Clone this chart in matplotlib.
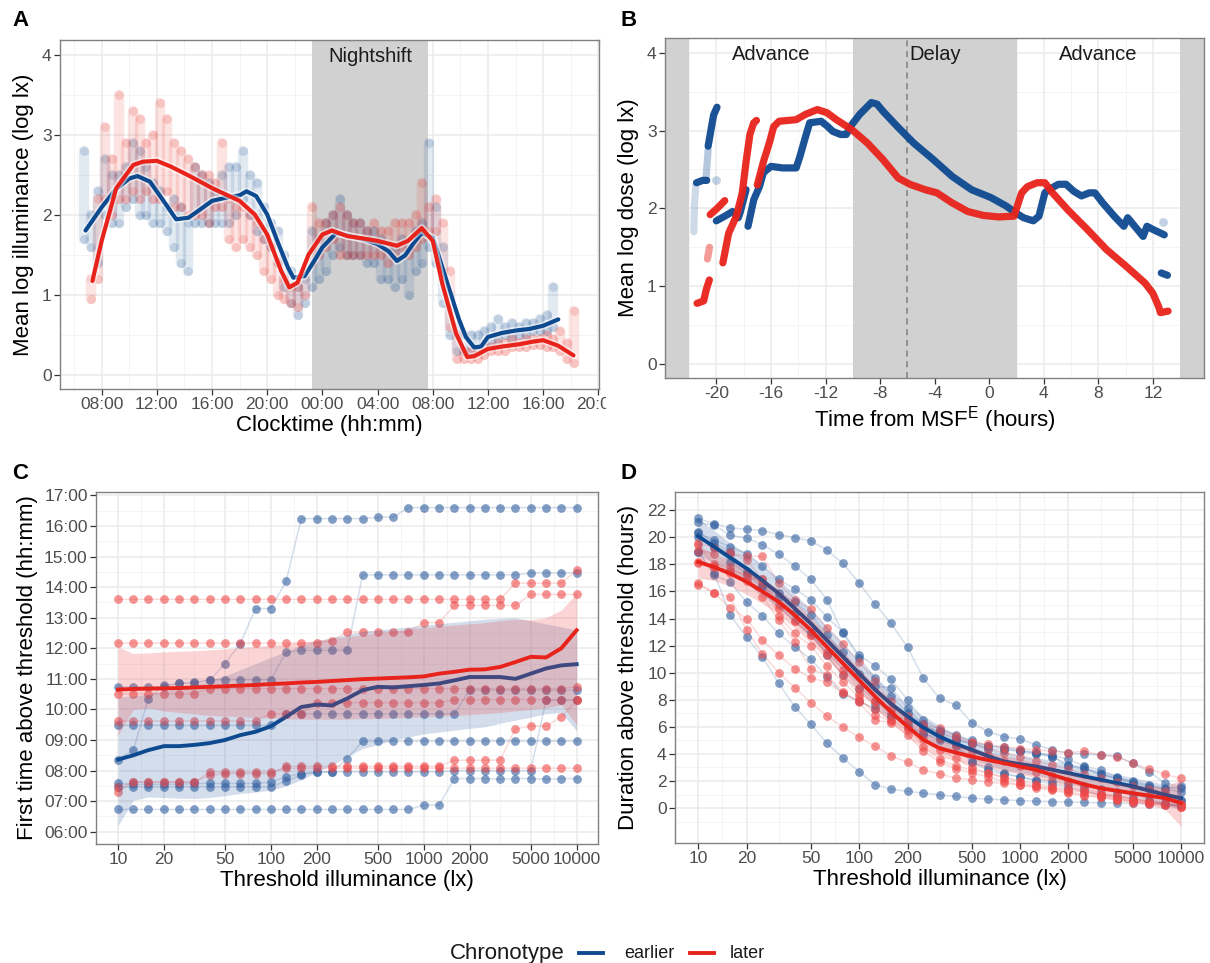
import numpy as np
import matplotlib
matplotlib.use('Agg')
import matplotlib.pyplot as plt
import matplotlib.patheffects as pe
from matplotlib.ticker import FixedLocator, NullFormatter
from matplotlib.lines import Line2D
from matplotlib.transforms import Bbox, TransformedBbox

plt.rcParams['font.family'] = ['Liberation Sans', 'DejaVu Sans']
plt.rcParams['mathtext.fontset'] = 'custom'
plt.rcParams['mathtext.rm'] = 'Liberation Sans'
plt.rcParams['mathtext.it'] = 'Liberation Sans:italic'
plt.rcParams['axes.unicode_minus'] = False

# ---------------- DATA ----------------
# Panel A: clock time in hours from day-1 midnight
a_tick_pos = [8, 12, 16, 20, 24, 28, 32, 36, 40, 44]
a_tick_lab = ['08:00', '12:00', '16:00', '20:00', '00:00', '04:00', '08:00', '12:00', '16:00', '20:00']

a_blue_t = [6.75, 7.25, 7.75, 8.25, 8.75, 9.25, 9.75, 10.25, 10.75, 11.25, 11.75, 12.25, 12.75, 13.25,
            13.75, 14.25, 14.75, 15.25, 15.75, 16.25, 16.75, 17.25, 17.75, 18.25, 18.75, 19.25, 19.75,
            20.25, 20.75, 21.25, 21.75, 22.25, 22.75, 23.25, 23.75, 24.25, 24.75, 25.25, 25.75, 26.25,
            26.75, 27.25, 27.75, 28.25, 28.75, 29.25, 29.75, 30.25, 30.75, 31.25, 31.75, 32.25, 32.75,
            33.25, 33.75, 34.25, 34.75, 35.25, 35.75, 36.25, 36.75, 37.25, 37.75, 38.25, 38.75, 39.25,
            39.75, 40.25, 40.75]
a_blue_lo = [1.7, 1.6, 1.4, 2.0, 1.9, 1.9, 2.1, 2.2, 2.0, 2.0, 1.9, 1.9, 1.8, 1.6, 1.4, 1.3, 1.9, 1.9,
             1.9, 1.9, 1.9, 1.9, 2.0, 2.2, 2.0, 1.8, 1.7, 1.6, 1.4, 1.1, 0.9, 0.75, 0.9, 1.1, 1.2, 1.3,
             1.5, 1.6, 1.5, 1.5, 1.5, 1.4, 1.4, 1.2, 1.2, 1.1, 1.2, 1.0, 1.3, 1.4, 1.6, 1.4, 0.9, 0.5,
             0.3, 0.3, 0.3, 0.35, 0.35, 0.4, 0.45, 0.5, 0.45, 0.5, 0.5, 0.55, 0.55, 0.55, 0.6]
a_blue_hi = [2.8, 2.0, 2.3, 2.7, 2.5, 2.5, 2.6, 2.9, 2.8, 2.6, 2.4, 2.3, 2.1, 2.2, 2.1, 1.9, 2.6, 2.5,
             2.4, 2.3, 2.5, 2.6, 2.6, 2.8, 2.5, 2.4, 2.1, 1.9, 1.8, 1.5, 1.3, 1.1, 1.2, 1.8, 1.7, 1.9,
             2.0, 2.2, 2.0, 1.9, 1.9, 1.8, 1.8, 1.7, 1.6, 1.6, 1.7, 1.6, 1.8, 1.9, 2.9, 2.1, 1.6, 1.0,
             0.6, 0.5, 0.5, 0.5, 0.55, 0.6, 0.7, 0.6, 0.65, 0.6, 0.65, 0.65, 0.7, 0.75, 1.1]

a_red_t = [7.25, 7.75, 8.25, 8.75, 9.25, 9.75, 10.25, 10.75, 11.25, 11.75, 12.25, 12.75, 13.25, 13.75,
           14.25, 14.75, 15.25, 15.75, 16.25, 16.75, 17.25, 17.75, 18.25, 18.75, 19.25, 19.75, 20.25,
           20.75, 21.25, 21.75, 22.25, 22.75, 23.25, 23.75, 24.25, 24.75, 25.25, 25.75, 26.25, 26.75,
           27.25, 27.75, 28.25, 28.75, 29.25, 29.75, 30.25, 30.75, 31.25, 31.75, 32.25, 32.75, 33.25,
           33.75, 34.25, 34.75, 35.25, 35.75, 36.25, 36.75, 37.25, 37.75, 38.25, 38.75, 39.25, 39.75,
           40.25, 40.75, 41.25, 41.75, 42.25]
a_red_lo = [0.95, 1.2, 2.2, 2.0, 2.2, 2.2, 2.3, 2.2, 2.3, 2.2, 2.2, 2.3, 2.1, 2.1, 2.0, 2.0, 2.0, 1.9,
            2.1, 2.1, 1.7, 1.6, 1.7, 1.6, 1.5, 1.3, 1.2, 1.0, 0.95, 0.9, 0.85, 1.0, 1.4, 1.5, 1.6, 1.7,
            1.5, 1.5, 1.5, 1.5, 1.5, 1.5, 1.5, 1.4, 1.5, 1.6, 1.5, 1.6, 1.7, 1.8, 1.8, 1.3, 0.6, 0.2,
            0.2, 0.2, 0.2, 0.25, 0.3, 0.3, 0.3, 0.35, 0.35, 0.35, 0.38, 0.38, 0.35, 0.35, 0.3, 0.2, 0.15]
a_red_hi = [1.2, 2.2, 3.1, 2.7, 3.5, 2.9, 3.3, 3.2, 2.9, 3.0, 3.4, 3.2, 2.9, 2.8, 2.7, 2.6, 2.5, 2.5,
            2.4, 2.9, 2.2, 2.1, 2.1, 2.0, 1.9, 1.7, 1.6, 1.4, 1.2, 1.1, 1.1, 1.3, 2.1, 1.9, 1.9, 2.0,
            2.1, 2.0, 1.9, 1.9, 1.8, 1.9, 1.8, 1.8, 1.9, 1.9, 1.9, 2.0, 2.4, 2.1, 2.2, 1.9, 1.3, 0.5,
            0.3, 0.3, 0.3, 0.35, 0.35, 0.4, 0.4, 0.45, 0.4, 0.45, 0.45, 0.45, 0.5, 0.45, 0.55, 0.4, 0.8]

a_blue_smooth_t = [6.83, 8.0, 9.0, 10.0, 10.6, 11.5, 12.4, 13.4, 14.3, 15.2, 16.0, 17.0, 18.0, 18.5,
                   19.2, 20.0, 20.8, 21.5, 21.9, 22.7, 23.3, 24.0, 25.0, 26.0, 27.0, 28.0, 28.8, 29.4,
                   30.0, 30.6, 31.2, 32.0, 32.6, 33.3, 33.9, 34.4, 35.0, 35.5, 36.0, 37.0, 38.0, 39.0,
                   40.0, 41.1]
a_blue_smooth_v = [1.81, 2.1, 2.32, 2.46, 2.49, 2.42, 2.2, 1.95, 1.97, 2.08, 2.18, 2.22, 2.25, 2.3,
                   2.24, 2.01, 1.65, 1.35, 1.22, 1.24, 1.4, 1.6, 1.78, 1.74, 1.7, 1.64, 1.55, 1.43,
                   1.5, 1.65, 1.78, 1.72, 1.4, 1.02, 0.7, 0.48, 0.35, 0.36, 0.48, 0.53, 0.56, 0.58,
                   0.62, 0.70]
a_red_smooth_t = [7.33, 8.0, 9.06, 10.3, 11.0, 12.0, 13.0, 14.5, 16.0, 17.0, 18.0, 19.1, 20.0, 21.0,
                  21.6, 22.2, 23.0, 24.0, 24.7, 25.8, 27.0, 28.0, 29.4, 30.2, 31.2, 32.0, 32.7, 33.7,
                  34.5, 35.0, 36.0, 37.0, 38.3, 39.2, 40.0, 41.1, 42.2]
a_red_smooth_v = [1.18, 1.68, 2.34, 2.63, 2.67, 2.68, 2.61, 2.48, 2.34, 2.26, 2.18, 2.01, 1.76, 1.31,
                  1.10, 1.16, 1.51, 1.76, 1.81, 1.74, 1.71, 1.68, 1.62, 1.68, 1.84, 1.68, 1.14, 0.52,
                  0.23, 0.24, 0.33, 0.36, 0.39, 0.42, 0.44, 0.37, 0.25]
a_night = [23.26, 31.68]

# Panel B: time from MSF^E (hours), mean log dose
b_blue_faint1_t = [-21.65, -21.6, -21.5]
b_blue_faint1_v = [1.70, 2.05, 2.30]
b_blue_faint2_t = [-20.75, -20.6]
b_blue_faint2_v = [2.40, 2.75]
b_blue_faint_pts_t = [-20.0, 12.7]
b_blue_faint_pts_v = [2.37, 1.83]
b_blue_seg1_t = [-21.45, -21.0, -20.7]
b_blue_seg1_v = [2.33, 2.36, 2.36]
b_blue_seg2_t = [-20.6, -20.4, -20.2, -19.95]
b_blue_seg2_v = [2.8, 3.0, 3.2, 3.3]
b_blue_seg3_t = [-20.0, -19.38, -18.81, -18.39, -18.25, -17.82]
b_blue_seg3_v = [1.84, 1.9, 1.96, 1.88, 1.95, 2.24]
b_blue_seg4_t = [-17.68, -17.26, -16.84, -16.55, -15.99, -15.14, -14.15, -13.87, -13.45, -13.16,
                 -12.32, -11.89, -11.47, -10.9, -10.48, -10.06, -9.49, -8.64, -8.22, -7.8, -6.67,
                 -5.54, -4.12, -2.71, -1.3, 0.11, 1.24, 1.95, 2.51, 3.22, 3.64, 4.07, 4.35, 5.06,
                 5.62, 6.19, 6.75, 7.32, 7.74, 8.31, 9.15, 9.86, 10.14, 10.56, 11.27, 11.55, 11.98, 12.82]
b_blue_seg4_v = [1.77, 2.11, 2.28, 2.46, 2.54, 2.52, 2.52, 2.67, 2.93, 3.1, 3.12, 3.06, 2.99, 2.95,
                 2.95, 3.08, 3.21, 3.36, 3.34, 3.25, 3.04, 2.84, 2.63, 2.41, 2.24, 2.14, 2.03, 1.94,
                 1.88, 1.84, 1.9, 2.2, 2.24, 2.31, 2.31, 2.22, 2.16, 2.2, 2.2, 2.07, 1.9, 1.77, 1.88,
                 1.79, 1.64, 1.77, 1.73, 1.66]
b_blue_seg5_t = [12.6, 13.05]
b_blue_seg5_v = [1.17, 1.14]

b_red_seg1_t = [-21.41, -20.93, -20.73, -20.51]
b_red_seg1_v = [0.78, 0.81, 0.96, 1.08]
b_red_seg2_t = [-20.65, -20.5]
b_red_seg2_v = [1.35, 1.5]
b_red_seg3_t = [-20.45, -19.94, -19.38]
b_red_seg3_v = [1.92, 2.0, 2.1]
b_red_seg4_t = [-19.52, -19.1, -18.53, -18.1, -17.82, -17.54, -17.26, -17.06]
b_red_seg4_v = [1.3, 1.68, 1.9, 2.2, 2.6, 2.95, 3.1, 3.13]
b_red_seg5_t = [-17.0, -16.55, -16.1, -15.8, -15.4, -14.15, -13.45, -12.6, -11.9, -11.2, -10.06,
                -8.93, -7.8, -6.67, -5.82, -4.69, -3.84, -2.71, -1.58, -0.45, 0.68, 1.81, 2.37, 2.8,
                3.5, 4.07, 4.63, 5.76, 7.18, 8.59, 10.0, 11.41, 11.98, 12.4, 12.54, 13.1]
b_red_seg5_v = [2.3, 2.6, 2.85, 3.05, 3.12, 3.14, 3.21, 3.27, 3.23, 3.14, 3.01, 2.84, 2.63, 2.39,
                2.31, 2.24, 2.2, 2.07, 1.96, 1.91, 1.89, 1.9, 2.2, 2.28, 2.33, 2.33, 2.2, 1.98, 1.73,
                1.47, 1.26, 1.04, 0.91, 0.74, 0.66, 0.68]
b_gray_spans = [(-23.76, -22.0), (-10.0, 2.0), (14.0, 15.73)]
b_phase_labels = ['Advance', 'Delay', 'Advance']
b_phase_pos = [-16, -4, 8]
b_msf_line = -6

# Panels C and D: thresholds (lx)
thresholds = [10, 12.6, 15.8, 20, 25.1, 31.6, 39.8, 50.1, 63.1, 79.4, 100, 126, 158, 200, 251, 316,
              398, 501, 631, 794, 1000, 1259, 1585, 1995, 2512, 3162, 3981, 5012, 6310, 7943, 10000]
log_ticks = [10, 20, 50, 100, 200, 500, 1000, 2000, 5000, 10000]
log_tick_labels = ['10', '20', '50', '100', '200', '500', '1000', '2000', '5000', '10000']

# C: first time above threshold (hours of day)
c_blue = [
    [6.73, 6.73, 6.73, 6.73, 6.73, 6.73, 6.73, 6.73, 6.73, 6.73, 6.73, 6.73, 6.73, 6.73, 6.73, 6.73,
     6.73, 6.73, 6.73, 6.73, 6.87, 6.87, 7.74, 7.74, 7.74, 7.72, 7.74, 7.74, 7.72, 7.74, 7.74],
    [7.47, 7.47, 7.47, 7.47, 7.47, 7.47, 7.47, 7.47, 7.47, 7.47, 7.47, 7.66, 7.85, 7.96, 7.96, 7.96,
     7.96, 7.96, 7.96, 7.96, 7.96, 7.96, 8.0, 8.0, 8.0, 8.0, 8.0, 8.0, 10.3, 10.3, 10.3],
    [7.58, 7.55, 7.55, 7.55, 7.55, 7.58, 7.58, 7.58, 7.58, 7.58, 7.62, 7.8, 7.9, 7.95, 7.95, 8.39,
     8.96, 8.96, 8.96, 8.96, 8.96, 8.96, 8.96, 8.96, 8.96, 8.96, 8.96, 8.96, 8.96, 8.96, 8.96],
    [8.36, 8.67, 10.35, 10.8, 10.85, 10.9, 10.95, 11.5, 12.15, 13.3, 13.3, 14.2, 16.24, 16.24, 16.24,
     16.24, 16.24, 16.29, 16.29, 16.6, 16.6, 16.6, 16.6, 16.6, 16.6, 16.6, 16.6, 16.6, 16.6, 16.6, 16.6],
    [9.48, 9.48, 9.48, 9.48, 9.48, 9.48, 9.48, 9.48, 9.48, 9.48, 9.48, 9.86, 9.86, 9.86, 9.86, 9.86,
     9.86, 9.86, 9.86, 9.86, 9.86, 9.86, 9.86, 10.63, 10.63, 10.63, 10.63, 10.63, 10.63, 10.63, 10.63],
    [10.74, 10.74, 10.74, 10.74, 10.85, 10.85, 10.97, 10.97, 10.97, 10.97, 10.97, 11.88, 11.93, 11.93,
     11.93, 11.93, 14.4, 14.4, 14.4, 14.4, 14.4, 14.4, 14.4, 14.4, 14.4, 14.4, 14.4, 14.46, 14.46,
     14.46, 14.46],
]
c_red = [
    [13.6, 13.6, 13.6, 13.6, 13.6, 13.6, 13.6, 13.6, 13.6, 13.6, 13.6, 13.6, 13.6, 13.6, 13.6, 13.6,
     13.6, 13.6, 13.6, 13.6, 13.6, 13.6, 13.6, 13.6, 13.6, 13.6, 14.13, 14.13, 14.13, 14.13, 14.55],
    [12.17, 12.17, 12.17, 12.17, 12.17, 12.17, 12.17, 12.17, 12.17, 12.17, 12.17, 12.17, 12.17, 12.17,
     12.25, 12.53, 12.53, 12.53, 12.53, 12.53, 12.84, 12.84, 13.4, 13.4, 13.4, 13.4, 13.4, 13.76,
     13.76, 13.76, 13.76],
    [10.52, 10.52, 10.52, 10.52, 10.52, 10.52, 10.68, 10.68, 10.68, 10.68, 10.68, 10.68, 10.68, 10.68,
     10.68, 10.68, 10.68, 10.68, 10.68, 10.68, 10.68, 10.68, 10.68, 10.68, 10.68, 10.68, 10.68, 10.68,
     10.68, 10.68, 10.75],
    [9.62, 9.62, 9.62, 9.62, 9.62, 9.62, 9.62, 9.62, 9.62, 9.62, 9.86, 9.86, 9.86, 10.22, 10.22, 10.22,
     10.22, 10.22, 10.22, 10.22, 10.22, 10.22, 10.32, 10.32, 10.32, 10.32, 10.32, 10.32, 10.32, 10.32,
     10.32],
    [7.45, 7.63, 7.63, 7.63, 7.63, 7.63, 7.85, 7.9, 7.9, 7.9, 7.9, 8.14, 8.14, 8.14, 8.14, 8.14, 8.14,
     8.14, 8.14, 8.14, 8.14, 8.14, 8.34, 8.34, 8.34, 8.34, 9.37, 9.45, 9.45, 9.76, 10.3],
    [7.3, 7.62, 7.62, 7.62, 7.62, 7.62, 7.95, 7.95, 7.95, 7.95, 7.95, 8.08, 8.08, 8.08, 8.08, 8.08,
     8.08, 8.08, 8.08, 8.08, 8.08, 8.08, 8.08, 8.08, 8.08, 8.08, 8.08, 8.08, 8.08, 8.08, 8.08],
]
c_blue_smooth = [8.36, 8.5, 8.67, 8.8, 8.8, 8.84, 8.9, 9.0, 9.16, 9.27, 9.45, 9.76, 10.08, 10.16,
                 10.13, 10.36, 10.63, 10.74, 10.72, 10.76, 10.8, 10.85, 10.95, 11.06, 11.06, 11.06,
                 11.0, 11.17, 11.34, 11.44, 11.48]
c_blue_lo = [6.2, 7.03, 7.14, 7.12, 7.1, 7.09, 7.12, 7.18, 7.25, 7.3, 7.36, 7.5, 7.7, 7.95, 8.18, 8.45,
             8.72, 8.85, 9.0, 9.1, 9.2, 9.26, 9.32, 9.38, 9.43, 9.55, 9.65, 9.75, 9.86, 9.9, 9.3]
c_blue_hi = [10.4, 10.45, 10.5, 10.6, 10.7, 10.8, 10.95, 11.1, 11.3, 11.5, 11.7, 11.9, 12.1, 12.25,
             12.35, 12.45, 12.55, 12.6, 12.65, 12.7, 12.75, 12.8, 12.85, 12.9, 12.95, 12.98, 13.0,
             12.9, 12.8, 12.7, 12.6]
c_red_smooth = [10.65, 10.67, 10.68, 10.69, 10.7, 10.72, 10.74, 10.76, 10.78, 10.8, 10.83, 10.85,
                10.88, 10.9, 10.93, 10.96, 10.99, 11.01, 11.03, 11.05, 11.08, 11.17, 11.23, 11.3,
                11.31, 11.39, 11.55, 11.72, 11.7, 12.0, 12.59]
c_red_lo = [9.16, 10.0, 10.05, 9.95, 9.9, 9.85, 9.8, 9.78, 9.76, 9.74, 9.72, 9.7, 9.68, 9.68, 9.68,
            9.68, 9.7, 9.7, 9.72, 9.74, 9.76, 9.78, 9.8, 9.83, 9.86, 9.9, 9.95, 10.0, 10.05, 10.15, 9.5]
c_red_hi = [12.04, 11.83, 11.85, 11.88, 11.9, 11.92, 11.95, 11.98, 12.02, 12.06, 12.1, 12.15, 12.2,
            12.26, 12.32, 12.38, 12.44, 12.5, 12.56, 12.62, 12.68, 12.72, 12.76, 12.8, 12.84, 12.9,
            12.95, 12.93, 13.0, 13.25, 13.8]
c_y_ticks = [6, 7, 8, 9, 10, 11, 12, 13, 14, 15, 16, 17]
c_y_labels = ['06:00', '07:00', '08:00', '09:00', '10:00', '11:00', '12:00', '13:00', '14:00',
              '15:00', '16:00', '17:00']

# D: duration above threshold (hours)
d_blue = [
    [21.4, 21.0, 20.7, 20.6, 20.5, 20.2, 19.98, 19.74, 19.05, 18.07, 16.64, 15.04, 13.64, 11.87, 9.59,
     8.11, 7.62, 6.32, 5.65, 5.28, 5.09, 4.67, 4.3, 4.06, 4.0, 3.93, 3.86, 3.32, 2.7, 1.84, 1.6],
    [18.93, 17.33, 14.26, 12.61, 11.18, 9.22, 7.5, 6.19, 4.79, 3.69, 2.7, 1.72, 1.4, 1.23, 1.11, 0.98,
     0.86, 0.74, 0.66, 0.61, 0.55, 0.5, 0.48, 0.45, 0.42, 0.4, 0.38, 0.35, 0.3, 0.25, 0.2],
    [21.1, 20.9, 20.15, 19.95, 19.45, 18.75, 17.9, 16.9, 15.4, 12.9, 11.1, 9.6, 8.3, 7.0, 6.2, 5.6,
     5.1, 4.7, 4.4, 4.3, 4.2, 4.1, 3.9, 3.6, 3.1, 2.8, 2.3, 1.9, 1.6, 1.4, 1.2],
    [20.3, 19.8, 19.3, 18.8, 17.9, 16.9, 16.2, 15.4, 14.1, 13.0, 11.3, 10.5, 9.5, 8.0, 6.5, 5.8, 5.4,
     5.0, 4.6, 4.5, 4.3, 4.1, 3.8, 3.1, 2.9, 2.5, 2.2, 1.8, 1.5, 1.0, 0.6],
    [20.0, 19.3, 18.2, 17.3, 16.3, 15.6, 14.4, 13.0, 11.3, 9.8, 8.8, 7.6, 6.8, 6.0, 5.5, 5.2, 5.0,
     4.8, 4.6, 4.4, 4.2, 4.0, 3.8, 3.2, 3.0, 2.5, 2.2, 2.0, 1.7, 1.5, 1.5],
    [18.9, 17.2, 16.7, 15.2, 14.2, 12.9, 11.9, 11.0, 9.7, 8.4, 7.9, 7.3, 6.8, 6.2, 5.5, 5.0, 4.6, 3.4,
     3.0, 2.6, 2.3, 2.1, 2.0, 1.8, 1.6, 1.4, 1.2, 1.0, 0.9, 0.8, 0.5],
    [20.4, 19.6, 18.9, 17.5, 16.5, 15.9, 15.2, 14.3, 12.8, 11.5, 9.9, 9.0, 8.9, 7.4, 6.1, 5.6, 4.8,
     3.4, 2.8, 2.5, 2.3, 2.0, 1.8, 1.5, 1.3, 1.0, 0.9, 0.7, 0.5, 0.3, 0.2],
]
d_red = [
    [16.6, 15.9, 15.6, 13.15, 11.4, 10.0, 8.9, 7.79, 6.8, 5.97, 5.24, 4.55, 3.86, 3.37, 2.83, 2.53,
     2.21, 2.09, 1.9, 1.84, 1.7, 1.6, 1.5, 1.3, 1.2, 1.0, 0.8, 0.6, 0.5, 0.4, 0.3],
    [19.6, 19.2, 18.9, 18.3, 16.9, 15.0, 13.8, 12.8, 11.5, 10.2, 8.9, 7.9, 7.0, 6.5, 6.2, 5.9, 5.3,
     4.9, 4.7, 4.5, 4.4, 4.3, 4.2, 4.1, 4.2, 3.9, 3.8, 3.3, 2.9, 2.5, 2.2],
    [18.1, 17.8, 17.5, 17.3, 16.6, 14.8, 13.8, 12.8, 11.3, 9.8, 8.4, 7.9, 7.3, 6.6, 6.0, 5.6, 5.2,
     4.8, 4.4, 4.1, 3.8, 3.5, 3.2, 2.9, 2.5, 2.2, 1.9, 1.6, 1.4, 1.2, 0.2],
    [19.4, 18.0, 17.8, 17.0, 16.9, 14.2, 12.9, 12.0, 10.5, 9.3, 8.2, 6.9, 6.4, 5.8, 5.1, 4.3, 3.7,
     3.0, 2.6, 2.2, 1.9, 1.6, 1.4, 1.2, 1.0, 0.8, 0.6, 0.4, 0.3, 0.2, 0.1],
    [16.5, 15.9, 14.8, 14.0, 12.4, 11.3, 10.3, 9.6, 9.3, 8.5, 7.9, 7.3, 6.5, 6.0, 4.5, 3.6, 3.1, 2.8,
     2.6, 2.3, 2.0, 1.8, 1.6, 1.4, 1.2, 0.9, 0.7, 0.5, 0.4, 0.3, 0.2],
    [18.2, 17.9, 17.4, 16.8, 15.6, 13.9, 12.3, 10.3, 9.8, 8.6, 7.8, 6.5, 6.3, 5.4, 4.2, 3.4, 2.9, 2.6,
     2.3, 2.0, 1.7, 1.5, 1.3, 1.1, 0.9, 0.8, 0.6, 0.5, 0.4, 0.3, 0.1],
    [19.0, 18.8, 18.8, 18.6, 18.6, 16.6, 15.4, 14.7, 13.3, 12.1, 10.8, 9.4, 7.9, 6.8, 5.8, 5.2, 4.6,
     4.2, 3.9, 3.5, 3.1, 2.7, 2.4, 2.0, 1.5, 1.1, 0.9, 0.7, 0.5, 0.3, 0.1],
]
d_blue_smooth = [20.08, 19.3, 18.5, 17.7, 16.8, 15.86, 14.75, 13.64, 12.4, 11.18, 9.95, 8.73, 7.7,
                 6.76, 5.95, 5.28, 4.75, 4.3, 3.85, 3.44, 3.25, 3.07, 2.83, 2.58, 2.33, 2.09, 1.85,
                 1.6, 1.3, 0.98, 0.74]
d_blue_lo = [18.7, 18.1, 17.4, 16.6, 15.7, 14.8, 13.7, 12.6, 11.4, 10.2, 9.0, 7.8, 6.8, 5.9, 5.1, 4.5,
             4.0, 3.6, 3.2, 2.8, 2.6, 2.4, 2.2, 1.95, 1.7, 1.45, 1.2, 0.95, 0.6, 0.2, -0.1]
d_blue_hi = [21.4, 20.5, 19.6, 18.8, 17.9, 16.9, 15.8, 14.7, 13.4, 12.2, 10.9, 9.7, 8.6, 7.6, 6.8,
             6.1, 5.5, 5.0, 4.5, 4.1, 3.9, 3.75, 3.5, 3.25, 3.0, 2.75, 2.5, 2.25, 2.0, 1.75, 1.6]
d_red_smooth = [18.19, 17.8, 17.33, 16.72, 16.0, 15.24, 14.25, 13.15, 11.9, 10.69, 9.45, 8.23, 7.1,
                6.02, 5.04, 4.42, 4.1, 3.81, 3.55, 3.32, 3.07, 2.83, 2.45, 2.09, 1.75, 1.47, 1.28,
                1.1, 0.92, 0.74, 0.37]
d_red_lo = [17.0, 16.8, 16.4, 15.8, 15.1, 14.3, 13.3, 12.2, 11.0, 9.8, 8.6, 7.4, 6.3, 5.3, 4.4, 3.8,
            3.5, 3.2, 3.0, 2.75, 2.5, 2.25, 1.9, 1.55, 1.2, 0.9, 0.7, 0.5, 0.25, -0.1, -1.35]
d_red_hi = [19.4, 18.8, 18.3, 17.6, 16.9, 16.2, 15.2, 14.1, 12.8, 11.6, 10.3, 9.1, 7.9, 6.8, 5.7,
            5.05, 4.7, 4.4, 4.1, 3.9, 3.65, 3.4, 3.0, 2.65, 2.3, 2.05, 1.85, 1.7, 1.6, 1.6, 2.1]

groups = ['earlier', 'later']

# ---------------- STYLE ----------------
BLUE = '#0E4A90'
RED = '#E8231B'
BLUE_PT = '#2F5E9F'
RED_PT = '#EF4A4A'
GRAY_RECT = '#D1D1D1'
W, H = 1210, 963
fig = plt.figure(figsize=(W / 100, H / 100), dpi=100)


def add_ax(l, t, r, b):
    return fig.add_axes([l / W, 1 - b / H, (r - l) / W, (b - t) / H])


def style(ax, xmaj, xmin, ymaj, ymin, xlab=None, ylab=None):
    ax.set_facecolor('white')
    for s in ax.spines.values():
        s.set_color('#808080')
        s.set_linewidth(1.0)
    ax.xaxis.set_major_locator(FixedLocator(xmaj))
    ax.xaxis.set_minor_locator(FixedLocator(xmin))
    ax.yaxis.set_major_locator(FixedLocator(ymaj))
    ax.yaxis.set_minor_locator(FixedLocator(ymin))
    ax.xaxis.set_minor_formatter(NullFormatter())
    ax.yaxis.set_minor_formatter(NullFormatter())
    if xlab is not None:
        ax.set_xticklabels(xlab)
    if ylab is not None:
        ax.set_yticklabels(ylab)
    ax.grid(which='major', color='#EBEBEB', lw=1.1)
    ax.grid(which='minor', color='#F2F2F2', lw=0.6)
    ax.set_axisbelow(True)
    ax.tick_params(which='major', length=4, width=0.9, color='#333333', labelsize=12.5,
                   labelcolor='#4D4D4D', pad=2)
    ax.tick_params(which='minor', length=0)


axA = add_ax(60, 40, 599, 389)
axB = add_ax(665, 38, 1204, 378)
axC = add_ax(96, 492, 598, 844)
axD = add_ax(675, 492, 1204, 843)

# ---------------- PANEL A ----------------
axA.axvspan(a_night[0], a_night[1], color=GRAY_RECT, lw=0, zorder=1)
axA.text(sum(a_night) / 2, 3.98, 'Nightshift', ha='center', va='center', fontsize=14.5,
         color='#1A1A1A', zorder=6)
for t, lo, hi, col in [(a_blue_t, a_blue_lo, a_blue_hi, BLUE), (a_red_t, a_red_lo, a_red_hi, RED)]:
    vl = axA.vlines(t, lo, hi, color=col, lw=7.5, alpha=0.12, zorder=2)
    vl.set_capstyle('round')
    axA.scatter(t, lo, s=42, color=col, alpha=0.16, lw=0, zorder=2)
    axA.scatter(t, hi, s=42, color=col, alpha=0.16, lw=0, zorder=2)
halo = [pe.Stroke(linewidth=5.5, foreground='white', alpha=0.55), pe.Normal()]
axA.plot(a_blue_smooth_t, a_blue_smooth_v, color=BLUE, lw=3.0, zorder=4, path_effects=halo,
         solid_joinstyle='round', solid_capstyle='round')
axA.plot(a_red_smooth_t, a_red_smooth_v, color=RED, lw=3.0, zorder=5, path_effects=halo,
         solid_joinstyle='round', solid_capstyle='round')
axA.set_xlim(4.98, 44.05)
axA.set_ylim(-0.17, 4.19)
style(axA, a_tick_pos, [6, 10, 14, 18, 22, 26, 30, 34, 38, 42], [0, 1, 2, 3, 4],
      [0.5, 1.5, 2.5, 3.5], xlab=a_tick_lab)
axA.set_xlabel('Clocktime (hh:mm)', fontsize=16, labelpad=2)
axA.set_ylabel('Mean log illuminance (log lx)', fontsize=16, labelpad=6)
clip = TransformedBbox(Bbox([[0, 0], [606 / W, 1]]), fig.transFigure)
for lbl in axA.get_xticklabels():
    lbl.set_clip_box(clip)
    lbl.set_clip_on(True)

# ---------------- PANEL B ----------------
for a, b in b_gray_spans:
    axB.axvspan(a, b, color=GRAY_RECT, lw=0, zorder=1)
axB.axvline(b_msf_line, color='#808080', lw=1.1, ls=(0, (4, 3)), zorder=2)
for lab, pos in zip(b_phase_labels, b_phase_pos):
    axB.text(pos, 3.98, lab, ha='center', va='center', fontsize=14.5, color='#1A1A1A', zorder=6)
kw = dict(lw=5.2, solid_capstyle='round', solid_joinstyle='round')
axB.plot(b_blue_faint1_t, b_blue_faint1_v, color=BLUE, alpha=0.2, zorder=3, **kw)
axB.plot(b_blue_faint2_t, b_blue_faint2_v, color=BLUE, alpha=0.3, zorder=3, **kw)
axB.scatter(b_blue_faint_pts_t, b_blue_faint_pts_v, s=40, color=BLUE, alpha=0.25, lw=0, zorder=3)
for t, v in [(b_blue_seg1_t, b_blue_seg1_v), (b_blue_seg2_t, b_blue_seg2_v),
             (b_blue_seg3_t, b_blue_seg3_v), (b_blue_seg4_t, b_blue_seg4_v),
             (b_blue_seg5_t, b_blue_seg5_v)]:
    axB.plot(t, v, color=BLUE, alpha=0.95, zorder=4, **kw)
axB.plot(b_red_seg2_t, b_red_seg2_v, color=RED, alpha=0.45, zorder=5, **kw)
for t, v in [(b_red_seg1_t, b_red_seg1_v), (b_red_seg3_t, b_red_seg3_v),
             (b_red_seg4_t, b_red_seg4_v), (b_red_seg5_t, b_red_seg5_v)]:
    axB.plot(t, v, color=RED, alpha=0.95, zorder=5, **kw)
axB.set_xlim(-23.76, 15.73)
axB.set_ylim(-0.18, 4.19)
style(axB, [-20, -16, -12, -8, -4, 0, 4, 8, 12], [-22, -18, -14, -10, -6, -2, 2, 6, 10, 14],
      [0, 1, 2, 3, 4], [0.5, 1.5, 2.5, 3.5])
axB.set_xlabel(r'Time from MSF$^{\mathrm{E}}$ (hours)', fontsize=16, labelpad=2)
axB.set_ylabel('Mean log dose (log lx)', fontsize=16, labelpad=6)

# ---------------- PANELS C & D ----------------
log_minor = [7.07, 14.1, 31.6, 70.7, 141, 316, 707, 1414, 3162, 7071]


def subject_layers(ax, blues, reds):
    for vals in blues:
        ax.plot(thresholds, vals, color=BLUE_PT, alpha=0.2, lw=1.1, zorder=2)
        ax.scatter(thresholds, vals, s=40, color=BLUE_PT, alpha=0.6, lw=0, zorder=3)
    for vals in reds:
        ax.plot(thresholds, vals, color=RED_PT, alpha=0.2, lw=1.1, zorder=2)
        ax.scatter(thresholds, vals, s=40, color=RED_PT, alpha=0.6, lw=0, zorder=3)


def smooth_layers(ax, bs, blo, bhi, rs, rlo, rhi):
    ax.fill_between(thresholds, blo, bhi, color='#3E66A8', alpha=0.22, lw=0, zorder=4)
    ax.plot(thresholds, bs, color=BLUE, lw=2.8, zorder=5)
    ax.fill_between(thresholds, rlo, rhi, color='#EE4444', alpha=0.22, lw=0, zorder=6)
    ax.plot(thresholds, rs, color=RED, lw=2.8, zorder=7)


subject_layers(axC, c_blue, c_red)
smooth_layers(axC, c_blue_smooth, c_blue_lo, c_blue_hi, c_red_smooth, c_red_lo, c_red_hi)
axC.set_xscale('log')
axC.set_xlim(7.18, 13800)
axC.set_ylim(5.6, 17.11)
style(axC, log_ticks, log_minor, c_y_ticks, [6.5, 7.5, 8.5, 9.5, 10.5, 11.5, 12.5, 13.5, 14.5,
                                             15.5, 16.5], xlab=log_tick_labels, ylab=c_y_labels)
axC.set_xlabel('Threshold illuminance (lx)', fontsize=16, labelpad=2)
axC.set_ylabel('First time above threshold (hh:mm)', fontsize=16, labelpad=4)

subject_layers(axD, d_blue, d_red)
smooth_layers(axD, d_blue_smooth, d_blue_lo, d_blue_hi, d_red_smooth, d_red_lo, d_red_hi)
axD.set_xscale('log')
axD.set_xlim(7.18, 13900)
axD.set_ylim(-2.58, 23.35)
style(axD, log_ticks, log_minor, [0, 2, 4, 6, 8, 10, 12, 14, 16, 18, 20, 22],
      [-1, 1, 3, 5, 7, 9, 11, 13, 15, 17, 19, 21, 23], xlab=log_tick_labels)
axD.set_xlabel('Threshold illuminance (lx)', fontsize=16, labelpad=2)
axD.set_ylabel('Duration above threshold (hours)', fontsize=16, labelpad=6)

# ---------------- PANEL LETTERS ----------------
for letter, x, y in [('A', 12, 20), ('B', 620, 20), ('C', 12, 473), ('D', 620, 473)]:
    fig.text(x / W, 1 - y / H, letter, fontsize=16, fontweight='bold', va='center', ha='left')

# ---------------- LEGEND ----------------
ly = 1 - 953 / H
fig.text(507 / W, ly, 'Chronotype', fontsize=16, ha='center', va='center', color='#1A1A1A')
for name, col, x0, xt in [(groups[0], BLUE, 579, 624), (groups[1], RED, 690, 730)]:
    fig.add_artist(Line2D([x0 / W, (x0 + 24) / W], [ly, ly], transform=fig.transFigure,
                          color=col, lw=2.8))
    fig.text(xt / W, ly, name, fontsize=13, ha='left', va='center', color='#1A1A1A')

fig.savefig('out.png', dpi=100)
